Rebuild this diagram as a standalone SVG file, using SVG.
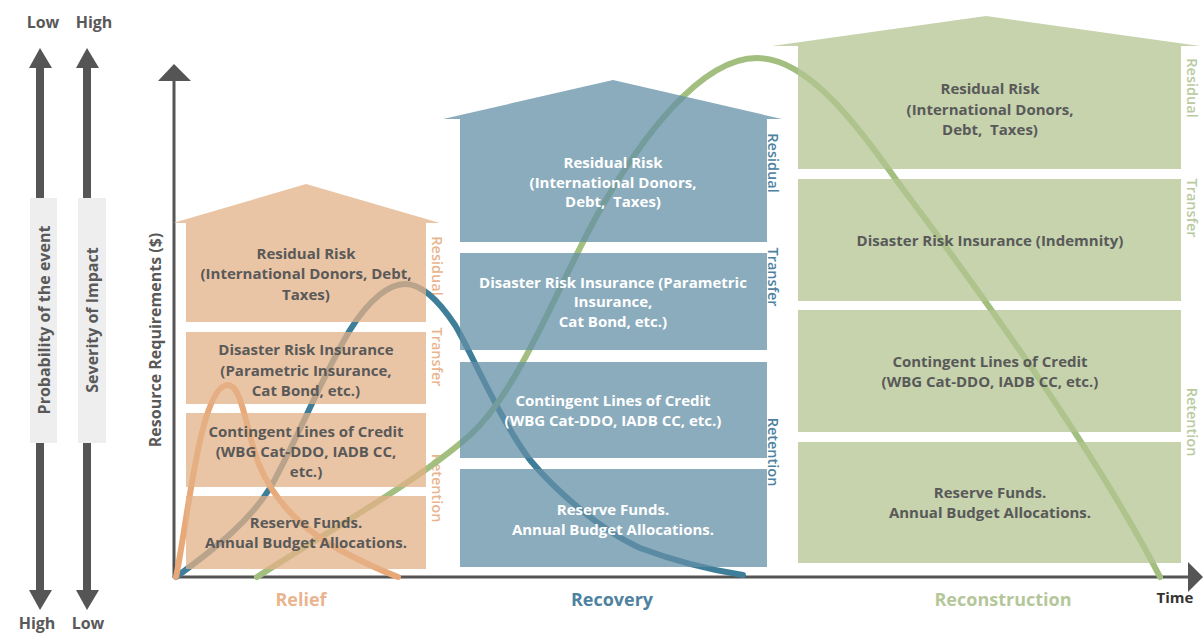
<svg xmlns="http://www.w3.org/2000/svg" width="1204" height="635" viewBox="0 0 1204 635">
  <defs>
    <style>
      text { font-family: "Open Sans", "Liberation Sans", sans-serif; font-weight: 700; }
      .lbl { font-size: 15px; text-anchor: middle; }
      .dark { fill: #595959; }
      .light { fill: #ffffff; }
      .side { font-size: 14.5px; text-anchor: middle; font-weight: 600; }
      .arrow { fill: #555555; }
      .axis { stroke: #555555; stroke-width: 3; fill: none; }
      .curve { fill: none; stroke-width: 6; stroke-linecap: round; }
      .org { fill: #E3B287; fill-opacity: 0.75; }
      .blu { fill: #6490A7; fill-opacity: 0.75; }
      .grn { fill: #B3C492; fill-opacity: 0.75; }
      .phase { font-size: 18px; text-anchor: middle; font-weight: 700; }
      .scale { font-size: 16px; text-anchor: middle; fill: #595959; }
    </style>
  </defs>

  <!-- left scale: probability and severity -->
  <g id="probability-scale">
    <rect class="arrow" x="36" y="62" width="8" height="535"/>
    <polygon class="arrow" points="29,68 40,48 52,68"/>
    <polygon class="arrow" points="29,590 40,610 52,590"/>
    <rect x="30" y="198" width="27" height="245" fill="#EEEEEE"/>
    <text class="scale" transform="translate(49.5 320) rotate(-90)">Probability of the event</text>
    <text class="scale" x="43" y="28">Low</text>
    <text class="scale" x="37" y="629">High</text>
  </g>
  <g id="severity-scale">
    <rect class="arrow" x="83" y="62" width="8" height="535"/>
    <polygon class="arrow" points="76,68 87,48 99,68"/>
    <polygon class="arrow" points="76,590 87,610 99,590"/>
    <rect x="78" y="198" width="28" height="245" fill="#EEEEEE"/>
    <text class="scale" transform="translate(97.5 320) rotate(-90)">Severity of Impact</text>
    <text class="scale" x="94" y="28">High</text>
    <text class="scale" x="88" y="629">Low</text>
  </g>

  <!-- axes -->
  <g id="axes">
    <line class="axis" x1="174" y1="76" x2="174" y2="578"/>
    <polygon class="arrow" points="158,81 174,64 191,81"/>
    <line class="axis" x1="174" y1="577" x2="1192" y2="577"/>
    <polygon class="arrow" points="1188,562 1203,577 1188,592"/>
    <text class="scale" transform="translate(161 340) rotate(-90)">Resource Requirements ($)</text>
    <text x="1175" y="603" font-size="15" text-anchor="middle" fill="#333333">Time</text>
  </g>

  <!-- layer labels beside each stack -->
  <g id="side-labels">
    <g fill="#E9B58E">
      <text class="side" transform="translate(432 266) rotate(90)">Residual</text>
      <text class="side" transform="translate(432 357) rotate(90)">Transfer</text>
      <text class="side" transform="translate(432 488) rotate(90)">Retention</text>
    </g>
    <g fill="#4E82A0">
      <text class="side" transform="translate(768 163) rotate(90)">Residual</text>
      <text class="side" transform="translate(768 277) rotate(90)">Transfer</text>
      <text class="side" transform="translate(768 452) rotate(90)">Retention</text>
    </g>
    <g fill="#B8CA9E">
      <text class="side" transform="translate(1187 88) rotate(90)">Residual</text>
      <text class="side" transform="translate(1187 208) rotate(90)">Transfer</text>
      <text class="side" transform="translate(1187 422) rotate(90)">Retention</text>
    </g>
  </g>

  <!-- resource curves over time -->
  <g id="curves">
    <path class="curve" stroke="#3F7E99" d="M176,577 C220,545 250,520 270,488 C295,445 320,380 350,330 C370,298 390,284 405,284 C425,284 445,310 455,325 C470,350 500,420 530,460 C555,490 600,530 640,548 C680,563 710,570 743,575"/>
    <path class="curve" stroke="#A2BF80" d="M257,577 C330,530 420,480 470,435 C520,390 560,280 600,210 C640,140 700,58 757,58 C810,58 860,130 900,185 C960,265 1090,440 1160,577"/>
    <path class="curve" stroke="#E9A877" d="M176,577 C188,520 200,385 228,385 C242,385 246,430 258,462 C272,498 300,528 340,550 C362,562 380,570 398,577"/>
  </g>

  <!-- relief stack -->
  <g id="relief-stack">
    <polygon class="org" points="173,223 306,184 440,223"/>
    <rect class="org" x="186" y="223" width="240" height="99"/>
    <rect class="org" x="186" y="332" width="240" height="72"/>
    <rect class="org" x="186" y="413" width="240" height="74"/>
    <rect class="org" x="186" y="496" width="240" height="73"/>
    <g class="lbl dark">
      <text x="306" y="259">Residual Risk</text>
      <text x="306" y="279">(International Donors, Debt,</text>
      <text x="306" y="300">Taxes)</text>
      <text x="306" y="355">Disaster Risk Insurance</text>
      <text x="306" y="376">(Parametric Insurance,</text>
      <text x="306" y="396">Cat Bond, etc.)</text>
      <text x="306" y="437">Contingent Lines of Credit</text>
      <text x="306" y="457">(WBG Cat-DDO, IADB CC,</text>
      <text x="306" y="477">etc.)</text>
      <text x="306" y="528">Reserve Funds.</text>
      <text x="306" y="548">Annual Budget Allocations.</text>
    </g>
  </g>

  <!-- recovery stack -->
  <g id="recovery-stack">
    <polygon class="blu" points="443,119 613,80 782,119"/>
    <rect class="blu" x="460" y="119" width="307" height="123"/>
    <rect class="blu" x="460" y="253" width="307" height="97"/>
    <rect class="blu" x="460" y="362" width="307" height="96"/>
    <rect class="blu" x="460" y="469" width="307" height="98"/>
    <g class="lbl light">
      <text x="613" y="168">Residual Risk</text>
      <text x="613" y="188">(International Donors,</text>
      <text x="613" y="207" xml:space="preserve">Debt,  Taxes)</text>
      <text x="613" y="288">Disaster Risk Insurance (Parametric</text>
      <text x="613" y="307">Insurance,</text>
      <text x="613" y="327">Cat Bond, etc.)</text>
      <text x="613" y="406">Contingent Lines of Credit</text>
      <text x="613" y="426">(WBG Cat-DDO, IADB CC, etc.)</text>
      <text x="613" y="515">Reserve Funds.</text>
      <text x="613" y="535">Annual Budget Allocations.</text>
    </g>
  </g>

  <!-- reconstruction stack -->
  <g id="reconstruction-stack">
    <polygon class="grn" points="772,46 986,16 1200,46"/>
    <rect class="grn" x="798" y="46" width="383" height="123"/>
    <rect class="grn" x="798" y="179" width="383" height="122"/>
    <rect class="grn" x="798" y="310" width="383" height="122"/>
    <rect class="grn" x="798" y="442" width="383" height="121"/>
    <g class="lbl dark">
      <text x="990" y="94">Residual Risk</text>
      <text x="990" y="115">(International Donors,</text>
      <text x="990" y="135" xml:space="preserve">Debt,  Taxes)</text>
      <text x="990" y="246">Disaster Risk Insurance (Indemnity)</text>
      <text x="990" y="367">Contingent Lines of Credit</text>
      <text x="990" y="387">(WBG Cat-DDO, IADB CC, etc.)</text>
      <text x="990" y="498">Reserve Funds.</text>
      <text x="990" y="518">Annual Budget Allocations.</text>
    </g>
  </g>

  <!-- phase names -->
  <g id="phases">
    <text class="phase" x="301" y="606" fill="#E9B58E">Relief</text>
    <text class="phase" x="612" y="606" fill="#4E82A0">Recovery</text>
    <text class="phase" x="1003" y="606" fill="#B5C79A">Reconstruction</text>
  </g>
</svg>
